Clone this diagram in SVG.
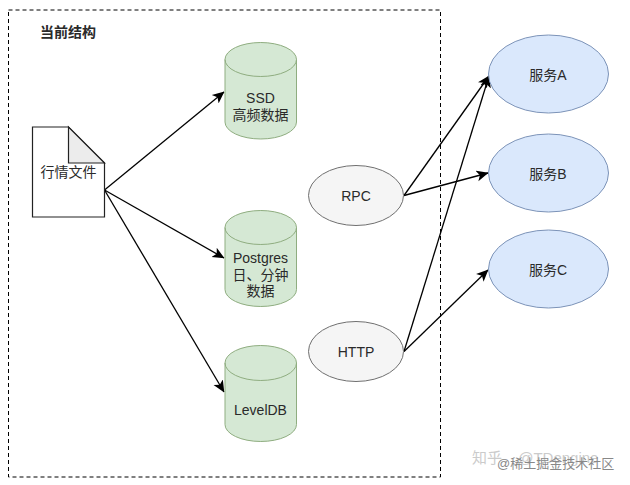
<svg xmlns="http://www.w3.org/2000/svg" width="630" height="485" viewBox="0 0 630 485">
<style>
text{font-family:"Liberation Sans","Noto Sans CJK SC",sans-serif;font-size:14px;fill:#2a2a2a;text-anchor:middle}
.db path{fill:#d5e8d4;stroke:#8fad80;stroke-width:1}
.proto{fill:#f5f5f5;stroke:#707070;stroke-width:1}
.svc{fill:#dae8fc;stroke:#7c93b8;stroke-width:1}
.c{fill:none;stroke:#000;stroke-width:1.300;marker-end:url(#arrow)}
.wm{fill:#aaa;font-size:15px;text-anchor:start}
</style>
<defs>
<marker id="arrow" viewBox="0 0 10 10" refX="9.500" refY="5" markerUnits="userSpaceOnUse" markerWidth="12" markerHeight="12" orient="auto"><path d="M0 0.500L10 5L0 9.500L2.500 5Z" fill="#000"/></marker>
</defs>
<rect width="630" height="485" fill="#fff"/>
<g id="frame"><rect x="8.500" y="10" width="432" height="467" fill="none" stroke="#000" stroke-dasharray="4 3"/><text x="68" y="37" style="font-weight:bold">当前结构</text></g>
<g id="connectors">
<line class="c" x1="104.500" y1="190" x2="224" y2="92"/>
<line class="c" x1="104.500" y1="190" x2="224" y2="258"/>
<line class="c" x1="104.500" y1="190" x2="224" y2="392"/>
<line class="c" x1="404" y1="195.500" x2="489" y2="76"/>
<line class="c" x1="404" y1="195.500" x2="488" y2="173"/>
<line class="c" x1="404" y1="351.500" x2="489" y2="76"/>
<line class="c" x1="404" y1="351.500" x2="488" y2="270"/>
</g>
<g id="file"><path d="M32.500 127H68.500L104.500 163V217H32.500Z" fill="#fff" stroke="#222" stroke-width="1.200"/><path d="M68.500 127V163H104.500Z" fill="#ececec" stroke="#222" stroke-width="1.200"/><text x="68.500" y="177">行情文件</text></g>
<g id="db-ssd" class="db"><path d="M225 59.500A35.750 17 0 0 1 296.500 59.500V122A35.750 17 0 0 1 225 122Z"/><path d="M225 59.500A35.750 17 0 0 0 296.500 59.500" style="fill:none"/><text x="260.500" y="103">SSD</text><text x="260.500" y="120">高频数据</text></g>
<g id="db-postgres" class="db"><path d="M225 227.500A35.750 17 0 0 1 296.500 227.500V289.500A35.750 17 0 0 1 225 289.500Z"/><path d="M225 227.500A35.750 17 0 0 0 296.500 227.500" style="fill:none"/><text x="260.500" y="263">Postgres</text><text x="260.500" y="280">日、分钟</text><text x="260.500" y="296">数据</text></g>
<g id="db-leveldb" class="db"><path d="M225 363A35.750 17.500 0 0 1 296.500 363V424.500A35.750 17 0 0 1 225 424.500Z"/><path d="M225 363A35.750 17.500 0 0 0 296.500 363" style="fill:none"/><text x="260.500" y="415">LevelDB</text></g>
<g id="rpc"><ellipse class="proto" cx="356" cy="195.500" rx="47.500" ry="30"/><text x="356" y="200.500">RPC</text></g>
<g id="http"><ellipse class="proto" cx="356" cy="351.500" rx="47.500" ry="30"/><text x="356" y="357">HTTP</text></g>
<g id="svc-a"><ellipse class="svc" cx="548.500" cy="74" rx="60" ry="39"/><text x="548" y="80">服务A</text></g>
<g id="svc-b"><ellipse class="svc" cx="548.500" cy="173" rx="60" ry="39"/><text x="548" y="179">服务B</text></g>
<g id="svc-c"><ellipse class="svc" cx="548.500" cy="269" rx="60" ry="39"/><text x="548" y="275">服务C</text></g>
<g id="watermark"><text class="wm" x="472" y="463" opacity="0.6" style="word-spacing:12px">知乎 @TDengine</text><text class="wm" x="497" y="468" style="fill:#888;font-size:13px">@稀土掘金技术社区</text></g>
</svg>
